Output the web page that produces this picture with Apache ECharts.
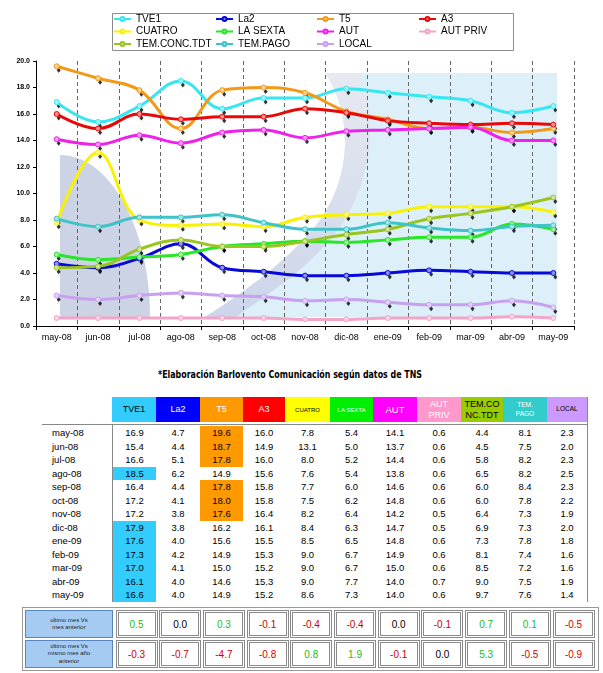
<!DOCTYPE html>
<html><head><meta charset="utf-8">
<script src="https://cdn.jsdelivr.net/npm/echarts@6/dist/echarts.min.js"></script>
<style>
body{margin:0;background:#fff;font-family:Arial,"Liberation Sans",sans-serif;}
#chart{position:absolute;left:0;top:0;width:603px;height:355px;}
.a{position:absolute;box-sizing:border-box;}
.c{display:flex;align-items:center;justify-content:center;text-align:center;}
</style></head><body>
<div id="chart"></div>
<div id="caption" class="a" style="left:158px;top:369px;font-family:'Liberation Sans Narrow','DejaVu Sans Condensed',Arial;font-weight:bold;font-size:11px;line-height:11px;white-space:nowrap;transform-origin:0 0;">*Elaboración Barlovento Comunicación según datos de TNS</div>
<div id="tables"></div>
<script>
// ---------- data ----------
const months = ['may-08','jun-08','jul-08','ago-08','sep-08','oct-08','nov-08','dic-08','ene-09','feb-09','mar-09','abr-09','may-09'];
const channelNames = ['TVE1','La2','T5','A3','CUATRO','LA SEXTA','AUT','AUT PRIV','TEM.CONC.TDT','TEM.PAGO','LOCAL'];
const tableHeaders = ['TVE1','La2','T5','A3','CUATRO','LA SEXTA','AUT','AUT<br>PRIV','TEM.CO<br>NC.TDT','TEM.<br>PAGO','LOCAL'];
const TVE1     = [16.9,15.4,16.6,18.5,16.4,17.2,17.2,17.9,17.6,17.3,17.0,16.1,16.6];
const La2      = [4.7,4.4,5.1,6.2,4.4,4.1,3.8,3.8,4.0,4.2,4.1,4.0,4.0];
const T5       = [19.6,18.7,17.8,14.9,17.8,18.0,17.6,16.2,15.6,14.9,15.0,14.6,14.9];
const A3       = [16.0,14.9,16.0,15.6,15.8,15.8,16.4,16.1,15.5,15.3,15.2,15.3,15.2];
const CUATRO   = [7.8,13.1,8.0,7.6,7.7,7.5,8.2,8.4,8.5,9.0,9.0,9.0,8.6];
const LA_SEXTA = [5.4,5.0,5.2,5.4,6.0,6.2,6.4,6.3,6.5,6.7,6.7,7.7,7.3];
const AUT      = [14.1,13.7,14.4,13.8,14.6,14.8,14.2,14.7,14.8,14.9,15.0,14.0,14.0];
const AUT_PRIV = [0.6,0.6,0.6,0.6,0.6,0.6,0.5,0.5,0.6,0.6,0.6,0.7,0.6];
const TEM_CONC = [4.4,4.5,5.8,6.5,6.0,6.0,6.4,6.9,7.3,8.1,8.5,9.0,9.7];
const TEM_PAGO = [8.1,7.5,8.2,8.2,8.4,7.8,7.3,7.3,7.8,7.4,7.2,7.5,7.6];
const LOCAL    = [2.3,2.0,2.3,2.5,2.3,2.2,1.9,2.0,1.8,1.6,1.6,1.9,1.4];
const vsPrevMonth = [0.5,0.0,0.3,-0.1,-0.4,-0.4,0.0,-0.1,0.7,0.1,-0.5];
const vsPrevYear  = [-0.3,-0.7,-4.7,-0.8,0.8,1.9,-0.1,0.0,5.3,-0.5,-0.9];
const compareLabels = ['ultimo mes Vs<br>mes anterior','último mes Vs<br>mismo mes año<br>anterior'];
const seriesData = [TVE1,La2,T5,A3,CUATRO,LA_SEXTA,AUT,AUT_PRIV,TEM_CONC,TEM_PAGO,LOCAL];

// ---------- styles ----------
const lineColors = ['#36e6f0','#0808d8','#f29a18','#e80808','#f8f200','#28e628','#f020ec','#f4a4c8','#9ac41e','#3ec4c8','#c8a0f0'];
const headColors = ['#33ccff','#0000ff','#ff9900','#ff0000','#ffff00','#00ee00','#ff00ff','#ff99cc','#99cc00','#33cccc','#cc99ff'];
const headText   = ['#000','#fff','#fff','#fff','#000','#fff','#fff','#fff','#000','#fff','#000'];
const headSize   = [9,9,9,9,6,6,9.5,9,9,6.5,6.5];
function light(hex){const n=parseInt(hex.slice(1),16);const r=n>>16,g=(n>>8)&255,b=n&255;const m=v=>Math.round(v+(255-v)*0.55);return 'rgb('+m(r)+','+m(g)+','+m(b)+')';}
// decorative background curve helper
function bez(p0,p1,p2,p3,n){const out=[];for(let k=0;k<=n;k++){const t=k/n,u=1-t;out.push([u*u*u*p0[0]+3*u*u*t*p1[0]+3*u*t*t*p2[0]+t*t*t*p3[0],u*u*u*p0[1]+3*u*u*t*p1[1]+3*u*t*t*p2[1]+t*t*t*p3[1]]);}return out;}
const innerEdge=[...bez([325,73],[350,110],[355,170],[320,220],20),...bez([320,220],[290,260],[240,295],[205,317],20)];
const outerEdge=[...bez([360,73],[378,120],[373,180],[338,230],20),...bez([338,230],[303,275],[258,300],[236,317],20)];
const whitePoly=[[60,73],...innerEdge,[60,317]];
const bandPoly=[...outerEdge,...innerEdge.slice().reverse()];
const crescentPoly=[...bez([60,155],[110,155],[150,228],[150,317],30),[60,317]];

const chart = echarts.init(document.getElementById('chart'), null, {renderer:'canvas'});
const series = [];
channelNames.forEach((n,i)=>{
  if (i !== 7) series.push({type:'scatter',name:'_m'+i,data:seriesData[i],symbol:'diamond',symbolSize:[4,5],symbolOffset:[2,4],itemStyle:{color:'#000'},z:2,silent:true});
});
channelNames.forEach((n,i)=>{
  series.push({type:'line',name:n,data:seriesData[i],smooth:0.4,symbol:'circle',symbolSize:5,showSymbol:true,
    lineStyle:{width:3,color:lineColors[i]},itemStyle:{color:light(lineColors[i]),borderColor:lineColors[i],borderWidth:1},z:3,emphasis:{disabled:true}});
});
const legendCols=[[0,4,8],[1,5,9],[2,6,10],[3,7]];
const legendLeft=[113,215,316,418];
chart.setOption({
  animation:false,
  backgroundColor:'#fff',
  textStyle:{fontFamily:'Arial, Liberation Sans'},
  graphic:[
    {type:'rect',shape:{x:112.5,y:13.5,width:401,height:37},style:{fill:'#fff',stroke:'#8c8c8c',lineWidth:1},z:-10},
    {type:'rect',shape:{x:60,y:73,width:497,height:244},style:{fill:'#ddf0fa'},z:-10},
    {type:'polygon',shape:{points:whitePoly},style:{fill:'#ffffff'},z:-9},
    {type:'polygon',shape:{points:bandPoly},style:{fill:{type:'linear',x:0,y:0,x2:0,y2:1,colorStops:[{offset:0,color:'#e6e9f1'},{offset:1,color:'#ccd5ea'}]}},z:-9},
    {type:'polygon',shape:{points:crescentPoly},style:{fill:'#ccd3e5'},z:-9}
  ],
  legend: legendCols.map((c,k)=>({orient:'vertical',left:legendLeft[k],top:13,padding:0,itemGap:0.5,itemWidth:17,itemHeight:5,selectedMode:false,
    data:c.map(i=>channelNames[i]),textStyle:{fontSize:10,color:'#000',lineHeight:12}})),
  grid:{left:36,right:29,top:61,bottom:29},
  xAxis:{type:'category',data:months,boundaryGap:true,
    axisLine:{lineStyle:{color:'#000',width:1}},
    axisTick:{show:true,length:4,lineStyle:{color:'#000'}},
    axisLabel:{fontSize:9,color:'#000',margin:7,interval:0},
    splitLine:{show:true,lineStyle:{type:[4,3],color:'#666',width:1}}},
  yAxis:{type:'value',min:0,max:20,interval:2,
    axisLine:{show:true,lineStyle:{color:'#000',width:1}},
    axisTick:{show:true,length:3,lineStyle:{color:'#000'}},
    axisLabel:{fontSize:7,fontWeight:'bold',color:'#000',margin:6,formatter:v=>v.toFixed(1)},
    splitLine:{show:false}},
  series:series
});

// ---------- caption fit ----------
const cap=document.getElementById('caption');
const w=cap.getBoundingClientRect().width;
cap.style.transform='scaleX('+(264/w)+')';

// ---------- tables ----------
const colX=[112,156,200,243,285,330,373,417,461,503,547,587];
let h='';
const top0=397, headH=25, bodyTop=426, rowH=13.5;
for(let j=0;j<11;j++){
  h+=`<div class="a c" style="left:${colX[j]}px;top:${top0}px;width:${colX[j+1]-colX[j]}px;height:${headH}px;background:${headColors[j]};color:${headText[j]};font-size:${headSize[j]}px;line-height:${headSize[j]+2}px;">${tableHeaders[j]}</div>`;
}
h+=`<div class="a" style="left:42px;top:424px;width:546px;height:1px;background:#888"></div>`;
h+=`<div class="a" style="left:112px;top:424px;width:1px;height:178px;background:#888"></div>`;
h+=`<div class="a" style="left:587px;top:397px;width:1px;height:205px;background:#888"></div>`;
months.forEach((m,r)=>{
  const y=bodyTop+r*rowH;
  h+=`<div class="a" style="left:52px;top:${y}px;height:${rowH}px;line-height:${rowH}px;font-size:9.5px;">${m}</div>`;
  const vals=seriesData.map(s=>s[r]);
  const mx=Math.max(...vals);
  vals.forEach((v,j)=>{
    const bg=(v===mx)?headColors[j]:'transparent';
    h+=`<div class="a c" style="left:${colX[j]+(j===0?1:0)}px;top:${y}px;width:${colX[j+1]-colX[j]-(j===0?1:0)}px;height:${rowH}px;background:${bg};font-size:9.5px;">${v.toFixed(1)}</div>`;
  });
});
// bottom comparison table
h+=`<div class="a" style="left:22px;top:607px;width:577px;height:64px;border:1px solid #999"></div>`;
[vsPrevMonth,vsPrevYear].forEach((arr,r)=>{
  const y=610+r*30;
  h+=`<div class="a c" style="left:25px;top:${y}px;width:88px;height:28px;background:#a5cbf2;border:1px solid #5b86c4;font-size:6px;line-height:7.5px;color:#222;">${compareLabels[r]}</div>`;
  arr.forEach((v,j)=>{
    const col=v>0?'#22bb22':(v<0?'#d00000':'#000');
    h+=`<div class="a c" style="left:${115.5+j*43.7}px;top:${y}px;width:42px;height:28px;border:3px double #8a8a8a;font-size:10px;color:${col};">${v.toFixed(1)}</div>`;
  });
});
document.getElementById('tables').innerHTML=h;
</script>
</body></html>
